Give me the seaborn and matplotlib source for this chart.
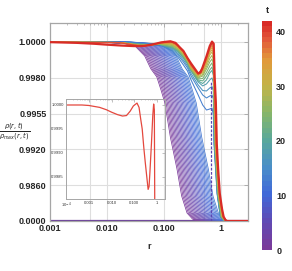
import numpy as np
import pandas as pd
import matplotlib
matplotlib.use("Agg")
import matplotlib.pyplot as plt
import matplotlib.colors as mcolors
import matplotlib.ticker as ticker
import seaborn as sns

# ---- data ----
# t = 0 profile; the early curves (fan) are this profile moved along log r
base_r = [1e-4, 0.0075, 0.0127, 0.021, 0.031, 0.046, 0.059, 0.075, 0.089,
          0.104, 0.13, 0.17, 0.205, 0.255, 0.32, 0.38, 3.0]
base_val = [1.0, 1.0, 0.99995, 0.9999, 0.99978, 0.99922, 0.9985, 0.99805,
            0.99715, 0.99625, 0.9932, 0.9887, 0.69, 0.22, 0.05, 0.0, 0.0]
fan_t = [0, 0.5, 1, 1.5, 2, 2.5, 3, 3.5, 4, 4.5, 5, 5.5, 6, 6.5, 7, 7.5,
         8, 8.5, 9, 9.5, 10, 10.5, 11, 11.5, 12, 12.5]
fan_shift = [0.0, 0.022, 0.044, 0.066, 0.088, 0.11, 0.132, 0.154, 0.176,
             0.198, 0.22, 0.242, 0.264, 0.286, 0.308, 0.33, 0.352, 0.374,
             0.396, 0.418, 0.44, 0.462, 0.484, 0.506, 0.528, 0.55]

# later curves on a shared r grid, then their final drop
late_r = [1e-4, 0.017, 0.038, 0.057, 0.085, 0.14, 0.175, 0.22, 0.26, 0.30,
          0.40, 0.48, 0.56, 0.64, 0.70, 0.74]
late_t = [13, 14, 16, 18, 20, 22, 24, 26, 28, 30, 32, 34, 36, 38, 40]
late_13 = [1.0, 0.99997, 0.99992, 0.99989, 0.99983, 0.9995, 0.99916, 0.99872,
           0.99838, 0.99785, 0.9968, 0.9961, 0.99575, 0.99582, 0.99589, 0.99536]
late_14 = [1.0, 0.99997, 0.99992, 0.99989, 0.99986, 0.99955, 0.99927, 0.99888,
           0.99855, 0.9981, 0.99729, 0.9968, 0.99659, 0.99673, 0.9968, 0.99652]
late_16 = [1.0, 0.99997, 0.99989, 0.99986, 0.99986, 0.99961, 0.99936, 0.99899,
           0.99866, 0.99824, 0.9975, 0.99711, 0.99708, 0.99729, 0.99739, 0.99708]
late_18 = [1.0, 0.99997, 0.99989, 0.99986, 0.99986, 0.99966, 0.99944, 0.99911,
           0.99877, 0.99838, 0.99771, 0.99743, 0.99757, 0.99785, 0.99799, 0.99764]
late_20 = [1.0, 0.99997, 0.99987, 0.99984, 0.99986, 0.99969, 0.99949, 0.99913,
           0.9988, 0.99841, 0.99778, 0.9976, 0.99785, 0.99827, 0.99841, 0.99813]
late_22 = [1.0, 0.99997, 0.99986, 0.99983, 0.99986, 0.99972, 0.99953, 0.99916,
           0.99883, 0.99844, 0.99785, 0.99778, 0.9981, 0.99844, 0.9986, 0.99827]
late_24 = [1.0, 0.99997, 0.99984, 0.99983, 0.99987, 0.99975, 0.99956, 0.99922,
           0.99887, 0.99846, 0.99792, 0.99795, 0.9983, 0.99866, 0.99883, 0.99852]
late_26 = [1.0, 0.99997, 0.99983, 0.99983, 0.99989, 0.9998, 0.99961, 0.99927,
           0.99891, 0.99849, 0.99799, 0.9981, 0.99849, 0.99888, 0.99905, 0.99877]
late_28 = [1.0, 0.99997, 0.99982, 0.99983, 0.9999, 0.99983, 0.99964, 0.9993,
           0.99894, 0.99852, 0.99804, 0.99818, 0.99863, 0.99908, 0.99925, 0.99899]
late_30 = [1.0, 0.99997, 0.9998, 0.99983, 0.99992, 0.99986, 0.99966, 0.99933,
           0.99897, 0.99855, 0.9981, 0.99827, 0.99877, 0.99927, 0.99944, 0.99922]
late_32 = [1.0, 0.99997, 0.9998, 0.99983, 0.99992, 0.99991, 0.99971, 0.99937,
           0.99899, 0.99859, 0.99813, 0.99834, 0.99885, 0.99939, 0.99957, 0.99939]
late_34 = [1.0, 0.99997, 0.9998, 0.99983, 0.99993, 0.99994, 0.99975, 0.99941,
           0.99902, 0.99863, 0.99816, 0.99841, 0.99894, 0.9995, 0.99969, 0.99955]
late_36 = [1.0, 0.99997, 0.99979, 0.99982, 0.99993, 0.99997, 0.99978, 0.99944,
           0.99905, 0.99866, 0.99818, 0.99846, 0.99901, 0.99958, 0.99979, 0.99965]
late_38 = [1.0, 0.99997, 0.99978, 0.9998, 0.99994, 1.0, 0.9998, 0.99947,
           0.99908, 0.99869, 0.99821, 0.99852, 0.99908, 0.99966, 0.99989, 0.99975]
late_40 = [1.0, 0.99995, 0.99978, 0.99981, 0.99996, 1.0, 0.99983, 0.99949,
           0.99909, 0.99875, 0.99823, 0.99856, 0.99914, 0.99972, 0.99995, 0.99984]
drop_val = [0.9925, 0.75, 0.12, 0.0, 0.0]
drop_13 = [0.76, 0.86, 0.98, 1.12, 3.0]
drop_14 = [0.765, 0.865, 0.985, 1.13, 3.0]
drop_16 = [0.77, 0.87, 0.99, 1.14, 3.0]
drop_18 = [0.775, 0.875, 1.0, 1.15, 3.0]
drop_20 = [0.78, 0.88, 1.008, 1.16, 3.0]
drop_22 = [0.785, 0.885, 1.015, 1.17, 3.0]
drop_24 = [0.79, 0.893, 1.022, 1.18, 3.0]
drop_26 = [0.795, 0.9, 1.03, 1.19, 3.0]
drop_28 = [0.8, 0.905, 1.04, 1.2, 3.0]
drop_30 = [0.805, 0.91, 1.05, 1.21, 3.0]
drop_32 = [0.81, 0.918, 1.06, 1.22, 3.0]
drop_34 = [0.815, 0.925, 1.07, 1.23, 3.0]
drop_36 = [0.822, 0.932, 1.08, 1.245, 3.0]
drop_38 = [0.83, 0.94, 1.09, 1.26, 3.0]
drop_40 = [0.84, 0.95, 1.1, 1.28, 3.0]

# last curve (t = 42), also shown in the inset
red_t = 42
red_r = [1e-4, 0.0005, 0.001, 0.003, 0.006, 0.01, 0.018, 0.03, 0.045, 0.065,
         0.09, 0.13, 0.16, 0.19, 0.22, 0.26, 0.30, 0.35, 0.40, 0.44, 0.48,
         0.56, 0.64, 0.70, 0.75, 0.78, 0.817, 0.85, 0.897, 0.96, 1.05, 1.12,
         1.21, 1.3, 3.0]
red_val = [1.0, 1.0, 0.99999, 0.99995, 0.9999, 0.99985, 0.9998, 0.99977,
           0.99978, 0.99987, 0.99998, 1.00004, 0.99995, 0.9997, 0.9995,
           0.9991, 0.9988, 0.9985, 0.99824, 0.9983, 0.9986, 0.9992, 0.99978,
           1.00002, 0.9999, 0.998, 0.9963, 0.9925, 0.9887, 0.75, 0.33, 0.12,
           0.02, 0.0, 0.0]

mark_r = 0.67
mark_top = 0.9978

y_ticks = [0.0, 0.986, 0.992, 0.9955, 0.998, 1.0]
x_ticks = [0.001, 0.01, 0.1, 1]
x_ticklabels = ["0.001", "0.010", "0.100", "1"]
x_grid = [0.005, 0.01, 0.1, 0.5, 1]
in_xticks = [1e-4, 0.001, 0.01, 0.1, 1]
in_xticklabels = ["10$^{-4}$", "0.001", "0.010", "0.100", "1"]
in_yticks = [0.9985, 0.999, 0.9995, 1.0]
cbar_ticks = [0, 10, 20, 30, 40]

# ---- build long tables ----
rows = []
for t, s in zip(fan_t, fan_shift):
    for r, v in zip(base_r, base_val):
        rows.append((r * 10 ** s, v, t))
fan_df = pd.DataFrame(rows, columns=["r", "ratio", "t"])

late_vals = [late_13, late_14, late_16, late_18, late_20, late_22, late_24,
             late_26, late_28, late_30, late_32, late_34, late_36, late_38, late_40]
late_drops = [drop_13, drop_14, drop_16, drop_18, drop_20, drop_22, drop_24,
              drop_26, drop_28, drop_30, drop_32, drop_34, drop_36, drop_38, drop_40]
rows = []
for t, vals, drops in zip(late_t, late_vals, late_drops):
    for r, v in zip(late_r + drops, vals + drop_val):
        rows.append((r, v, t))
late_df = pd.DataFrame(rows, columns=["r", "ratio", "t"])

# ---- style ----
sns.set_theme(style="white")
plt.rcParams["font.family"] = ["Liberation Sans", "DejaVu Sans"]
plt.rcParams["mathtext.fontset"] = "dejavusans"

cmap = mcolors.LinearSegmentedColormap.from_list(
    "rainbow_t",
    [(0.0, "#7a3a9a"), (0.12, "#5f4bb5"), (0.24, "#4169d8"), (0.36, "#4a8fc8"),
     (0.48, "#5aa89a"), (0.6, "#86b66a"), (0.72, "#c2b447"), (0.84, "#e2983a"),
     (0.93, "#e2583a"), (1.0, "#d92b26")], N=43)
norm = mcolors.Normalize(0, 42)

lev_val = [-1.0, 0.0, 0.986, 0.992, 0.9955, 0.998, 1.0, 1.01]
lev_pos = [-1 / 0.986, 0, 1, 2, 3, 4, 5, 10]


def fwd(y):
    return np.interp(y, lev_val, lev_pos)


def inv(p):
    return np.interp(p, lev_pos, lev_val)


frame = "#a6a6a6"
grid = "#dedede"

fig = plt.figure(figsize=(2.92, 2.71), dpi=100)
ax = fig.add_axes([50 / 292, 1 - 221 / 271, 198 / 292, 198 / 271])
ax.set_xscale("log")
ax.set_yscale("function", functions=(fwd, inv))

for g in x_grid:
    ax.axvline(g, color=grid, lw=0.8, zorder=0)
for g in y_ticks[1:]:
    ax.axhline(g, color=grid, lw=0.8, zorder=0)
ax.axhline(0.0, color="#6a3d9a", lw=1.6, zorder=1)

sns.lineplot(data=fan_df, x="r", y="ratio", hue="t", units="t", estimator=None,
             palette=cmap, hue_norm=norm, lw=0.55, legend=False, ax=ax)
sns.lineplot(data=late_df, x="r", y="ratio", hue="t", units="t", estimator=None,
             palette=cmap, hue_norm=norm, lw=0.75, legend=False, ax=ax)
ax.plot([mark_r, mark_r], [0.0, mark_top], color="#5d45b0", lw=0.9,
        ls=(0, (2.2, 1.2)), zorder=3)
sns.lineplot(x=red_r, y=red_val, color=cmap(norm(red_t)), lw=1.6, ax=ax, zorder=4)

ax.set_xlim(0.001, 3.0)
ax.set_ylim(0.0, 1.00106)
ax.set_xticks(x_ticks)
ax.set_xticklabels(x_ticklabels)
ax.set_yticks(y_ticks)
ax.yaxis.set_major_formatter(ticker.FormatStrFormatter("%.4f"))
ax.yaxis.set_minor_locator(ticker.NullLocator())
ax.tick_params(which="both", direction="in", color=frame, top=True, right=True,
               labelsize=6.5, pad=2.5)
ax.tick_params(which="major", length=3, width=0.6)
ax.tick_params(which="minor", length=1.6, width=0.5)
for lab in ax.get_xticklabels() + ax.get_yticklabels():
    lab.set_fontweight("bold")
for sp in ax.spines.values():
    sp.set_color(frame)
    sp.set_linewidth(0.9)
ax.set_xlabel("r", fontsize=6.5, fontweight="bold", labelpad=6)
ax.set_ylabel("")
fig.text(15 / 292, 1 - 132 / 271, r"$\frac{\rho(r,t)}{\rho_{max}(r,t)}$",
         fontsize=7, ha="center", va="center")

# inset
axin = fig.add_axes([66 / 292, 1 - 199 / 271, 99 / 292, 100 / 271])
axin.patch.set_alpha(0)
sns.lineplot(x=red_r, y=red_val, color="#e4483e", lw=0.9, ax=axin)
axin.set_xscale("log")
axin.set_xlim(1e-4, 2.2)
axin.set_ylim(0.99804, 1.000125)
axin.set_xticks(in_xticks)
axin.set_xticklabels(in_xticklabels)
axin.set_yticks(in_yticks)
axin.yaxis.set_major_formatter(ticker.FormatStrFormatter("%.4f"))
axin.tick_params(which="both", direction="in", color=frame, top=True, right=True,
                 labelsize=3, pad=1.5, labelcolor="#333333")
axin.tick_params(which="major", length=2, width=0.5)
axin.tick_params(which="minor", length=1, width=0.4)
for sp in axin.spines.values():
    sp.set_color(frame)
    sp.set_linewidth(0.7)

# colorbar
cax = fig.add_axes([262 / 292, 1 - 250 / 271, 10 / 292, 229 / 271])
cb = fig.colorbar(plt.cm.ScalarMappable(norm=norm, cmap=cmap), cax=cax)
cb.outline.set_visible(False)
cb.set_ticks(cbar_ticks)
cax.tick_params(length=0, labelsize=6.5, pad=3)
for lab in cax.get_yticklabels():
    lab.set_fontweight("bold")
cax.set_title("t", fontsize=6.5, fontweight="bold", pad=6)

fig.savefig("out.png", dpi=100)
